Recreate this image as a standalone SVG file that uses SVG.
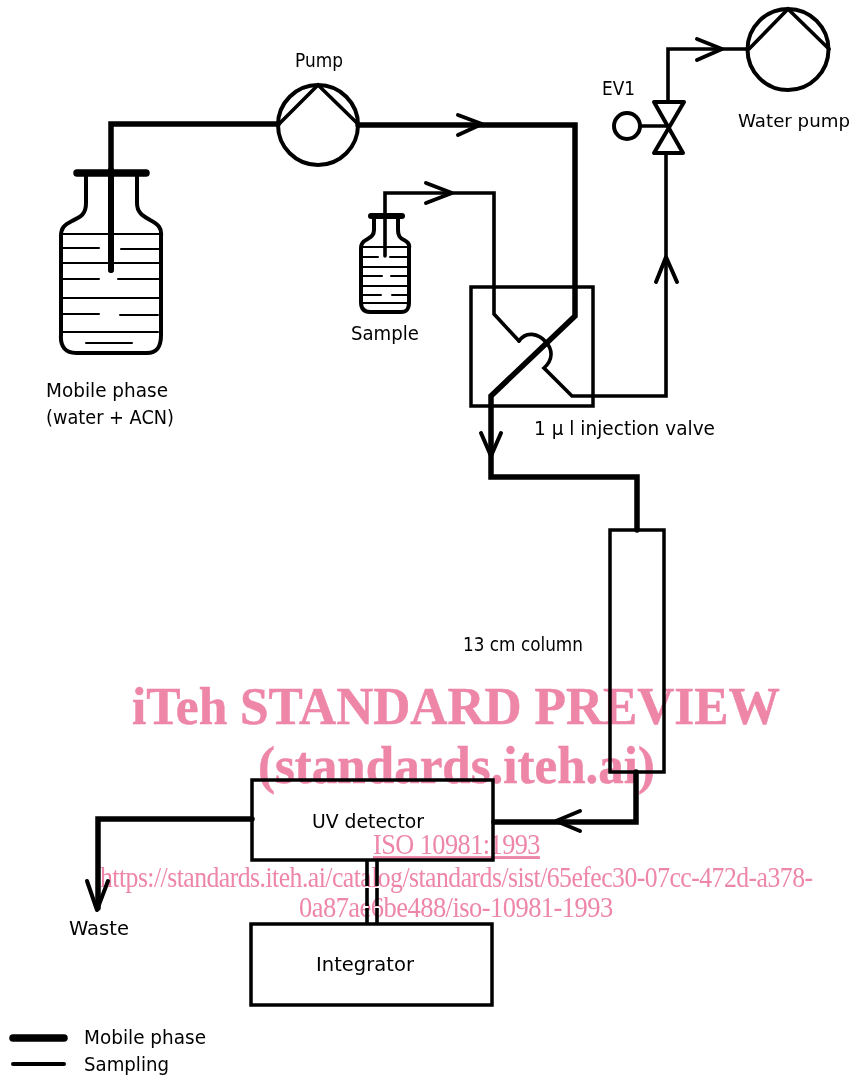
<svg xmlns="http://www.w3.org/2000/svg" width="854" height="1077" viewBox="0 0 854 1077">
<style>
.l{fill:none;stroke:#000;stroke-width:4;stroke-linejoin:round;stroke-linecap:round}
.th{fill:none;stroke:#000;stroke-width:5.5;stroke-linejoin:miter;stroke-linecap:round}
.tn{fill:none;stroke:#000;stroke-width:3.6;stroke-linejoin:miter;stroke-linecap:round}
.f{fill:none;stroke:#000;stroke-width:2;stroke-linecap:round}
.t{font-family:"DejaVu Sans",Arial,sans-serif;font-size:19.5px;fill:#000}
.w{font-family:"Liberation Serif","Times New Roman",serif;fill:#ee86a8;mix-blend-mode:multiply}
.b{font-size:53px;font-weight:bold;stroke:#ee86a8;stroke-width:.5}
.s{font-size:29px;letter-spacing:-.6px}
</style>
<rect width="854" height="1077" fill="#fff"/>
<g id="connectors">
<path class="th" d="M111,270V124H278"/>
<path class="th" d="M358,125H575V316L491,396V477H637V530"/>
<path class="th" d="M636,772V822H494"/>
<path class="th" d="M252,819H98V908"/>
<path class="tn" d="M385,256V193H494V314L519,341"/>
<path class="tn" d="M519,341C526,331 538,333 546,342C553,350 553,360 544,368L572,396H666V155"/>
<path class="tn" d="M668,101V49H747"/>
<path class="tn" d="M640,126H668"/>
<path class="l" d="M458,115L482,124L458,135"/>
<path class="l" d="M426,183L452,193L426,203"/>
<path class="l" d="M697,39L722,49L697,60"/>
<path class="l" d="M656,282L666,257L677,282"/>
<path class="l" d="M481,433L491,456L501,433"/>
<path class="l" d="M580,811L556,821L580,831"/>
<path class="l" d="M87,881L97,910L108,881"/>
<path d="M367,860V924M377,860V924" fill="none" stroke="#000" stroke-width="3.6" stroke-dasharray="26 2 18 2"/>
</g>
<g id="pump"><circle class="l" cx="318" cy="125" r="40"/><path class="tn" d="M279,124L318,85L358,124"/><text class="t" x="295" y="67" textLength="48" lengthAdjust="spacingAndGlyphs">Pump</text></g>
<g id="water-pump"><circle class="l" cx="788" cy="49.500" r="40.500"/><path class="tn" d="M749,49L788,9L829,49"/><text class="t" x="738" y="127" textLength="112" lengthAdjust="spacingAndGlyphs" style="font-size:18px">Water pump</text></g>
<g id="ev1"><circle class="l" cx="627" cy="126" r="13"/><path class="l" d="M654,102H684L654,153H683Z"/><text class="t" x="602" y="95" textLength="33" lengthAdjust="spacingAndGlyphs">EV1</text></g>
<g id="mobile-phase-bottle">
<path class="l" d="M86,176V203C86,215 80,217 72,221C64,225 61,228 61,236V335C60,347 66,353 76,353H147C157,353 161,347 161,335V236C162,228 158,224 150,220C143,216 137,213 137,203V176"/>
<path d="M77,173H146" stroke="#000" stroke-width="7.500" stroke-linecap="round"/>
<path class="f" d="M62,234H160M62,248H99M121,249H159M62,263H159M62,279H99M118,279H159M62,298H159M62,314H99M120,315H158M61,332H158M86,343H132"/>
<path d="M111,170V270" stroke="#000" stroke-width="6" stroke-linecap="round"/>
<text class="t" x="46" y="397" textLength="122" lengthAdjust="spacingAndGlyphs">Mobile phase</text>
<text class="t" x="46" y="424" textLength="128" lengthAdjust="spacingAndGlyphs">(water + ACN)</text>
</g>
<g id="sample-bottle">
<path class="l" d="M374,218V230C374,236 370,237 366,240C362,242 361,244 361,248V302C361,309 364,312 370,312H401C407,312 409,309 409,302V248C410,244 408,242 404,240C400,238 398,236 398,230V218"/>
<path d="M371,216H402" stroke="#000" stroke-width="6" stroke-linecap="round"/>
<path class="f" d="M363,247H407M363,257H378M390,257H407M363,267H407M363,276H382M391,276H407M363,286H407M363,295H381M392,295H407M363,303H407"/>
<text class="t" x="351" y="340" textLength="68" lengthAdjust="spacingAndGlyphs">Sample</text>
</g>
<g id="injection-valve"><rect x="471" y="287" width="122" height="119" fill="none" stroke="#000" stroke-width="3.500"/><text class="t" x="534" y="435" textLength="181" lengthAdjust="spacingAndGlyphs">1 µ l injection valve</text></g>
<g id="column"><rect x="610" y="530" width="54" height="242" fill="none" stroke="#000" stroke-width="3.500"/><text class="t" x="463" y="651" textLength="120" lengthAdjust="spacingAndGlyphs">13 cm column</text></g>
<g id="uv-detector"><rect x="252" y="780" width="241" height="80" fill="none" stroke="#000" stroke-width="3.500"/><text class="t" x="312" y="828" textLength="112" lengthAdjust="spacingAndGlyphs">UV detector</text></g>
<g id="integrator"><rect x="251" y="924" width="241" height="81" fill="none" stroke="#000" stroke-width="3.500"/><text class="t" x="316" y="971" textLength="98" lengthAdjust="spacingAndGlyphs">Integrator</text></g>
<g id="waste"><text class="t" x="69" y="935" textLength="60" lengthAdjust="spacingAndGlyphs">Waste</text></g>
<g id="legend">
<path d="M13,1038H64" stroke="#000" stroke-width="7.500" stroke-linecap="round"/>
<path d="M13,1064H64" stroke="#000" stroke-width="4" stroke-linecap="round"/>
<text class="t" x="84" y="1044" textLength="122" lengthAdjust="spacingAndGlyphs">Mobile phase</text>
<text class="t" x="84" y="1071" textLength="85" lengthAdjust="spacingAndGlyphs">Sampling</text>
</g>
<g id="watermark">
<text class="w b" x="132" y="724" textLength="648" lengthAdjust="spacingAndGlyphs">iTeh STANDARD PREVIEW</text>
<text class="w b" x="258" y="783" textLength="397" lengthAdjust="spacingAndGlyphs">(standards.iteh.ai)</text>
<text class="w s" transform="translate(373,854) scale(.907,1)" text-decoration="underline">ISO 10981:1993</text>
<text class="w s" transform="translate(100,887) scale(.887,1)">https://standards.iteh.ai/catalog/standards/sist/65efec30-07cc-472d-a378-</text>
<text class="w s" transform="translate(299,917) scale(.915,1)">0a87ae6be488/iso-10981-1993</text>
</g>
</svg>
